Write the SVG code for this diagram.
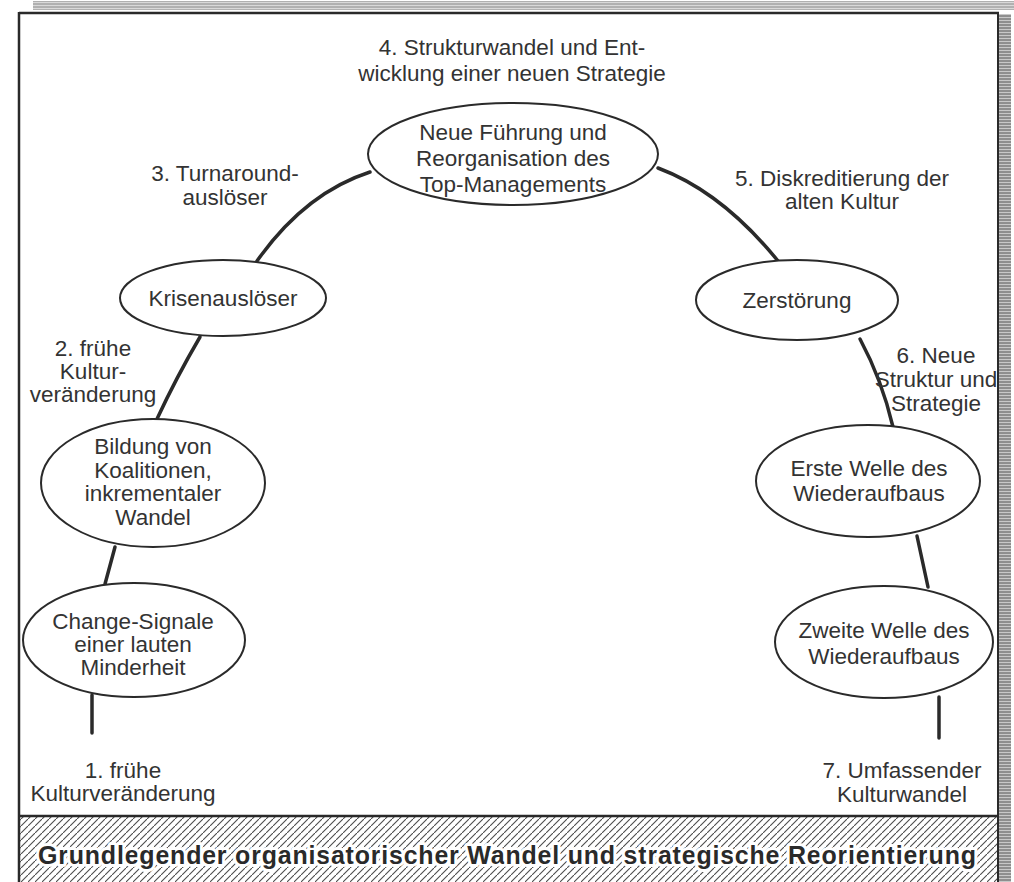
<svg xmlns="http://www.w3.org/2000/svg" width="1014" height="882" viewBox="0 0 1014 882">
  <defs>
    <pattern id="hatch" patternUnits="userSpaceOnUse" width="7" height="7">
      <line x1="-1" y1="8" x2="8" y2="-1" stroke="#4a4a4a" stroke-width="1.1"/>
    </pattern>
    <pattern id="hstripe" patternUnits="userSpaceOnUse" width="10" height="3">
      <rect x="0" y="0" width="10" height="3" fill="#c8c8c8"/>
      <line x1="0" y1="1" x2="10" y2="1" stroke="#555" stroke-width="1"/>
    </pattern>
    <style>
      .lbl { font-family: "Liberation Sans", Arial, Helvetica, sans-serif; font-size: 22.5px; fill: #333; text-anchor: middle; }
      .ell { fill: #fff; stroke: #2a2a2a; stroke-width: 2; }
      .con { fill: none; stroke: #2a2a2a; stroke-width: 3.5; stroke-linecap: round; }
      .ban { font-family: "Liberation Sans", Arial, Helvetica, sans-serif; font-size: 25px; font-weight: bold; fill: #2a2a2a; stroke: #fff; stroke-width: 6; paint-order: stroke; stroke-linejoin: round; }
    </style>
  </defs>

  <rect x="0" y="0" width="1014" height="882" fill="#fff"/>

  <!-- scan edges -->
  <rect x="33" y="1" width="981" height="9" fill="url(#hstripe)" opacity="0.7"/>
  <rect x="999" y="14" width="12" height="868" fill="url(#hstripe)"/>

  <!-- frame -->
  <g id="frame">
    <line x1="19" y1="13" x2="999" y2="13" stroke="#2a2a2a" stroke-width="2.5"/>
    <line x1="19" y1="12" x2="19" y2="882" stroke="#2a2a2a" stroke-width="2.5"/>
    <line x1="998" y1="12" x2="998" y2="882" stroke="#2a2a2a" stroke-width="2"/>
  </g>

  <!-- banner -->
  <g id="banner">
    <rect x="20" y="816" width="977" height="66" fill="url(#hatch)"/>
    <line x1="19" y1="816" x2="998" y2="816" stroke="#2a2a2a" stroke-width="2.5"/>
    <text class="ban" x="38" y="864" textLength="938" lengthAdjust="spacing">Grundlegender organisatorischer Wandel und strategische Reorientierung</text>
  </g>

  <!-- connectors -->
  <g id="connectors">
    <line class="con" x1="92" y1="695" x2="92" y2="733"/>
    <path class="con" d="M105 584 L115 547"/>
    <path class="con" d="M157 419 Q176 378 200 337"/>
    <path class="con" d="M257 261 Q305 193 370 172"/>
    <path class="con" d="M658 168 Q722 192 778 261"/>
    <path class="con" d="M860 339 Q882 380 893 427"/>
    <path class="con" d="M917 536 L928 587"/>
    <line class="con" x1="939" y1="697" x2="939" y2="738"/>
  </g>

  <!-- free labels -->
  <g id="labels">
    <text class="lbl" x="512" y="55">4. Strukturwandel und Ent-</text>
    <text class="lbl" x="512" y="81">wicklung einer neuen Strategie</text>
    <text class="lbl" x="225" y="181">3. Turnaround-</text>
    <text class="lbl" x="225" y="205">auslöser</text>
    <text class="lbl" x="842" y="186">5. Diskreditierung der</text>
    <text class="lbl" x="842" y="209">alten Kultur</text>
    <text class="lbl" x="93" y="356">2. frühe</text>
    <text class="lbl" x="93" y="379">Kultur-</text>
    <text class="lbl" x="93" y="402">veränderung</text>
    <text class="lbl" x="936" y="363">6. Neue</text>
    <text class="lbl" x="936" y="387">Struktur und</text>
    <text class="lbl" x="936" y="411">Strategie</text>
    <text class="lbl" x="123" y="778">1. frühe</text>
    <text class="lbl" x="123" y="801">Kulturveränderung</text>
    <text class="lbl" x="902" y="778">7. Umfassender</text>
    <text class="lbl" x="902" y="802">Kulturwandel</text>
  </g>

  <!-- nodes -->
  <g id="n-top">
    <ellipse class="ell" cx="513" cy="154" rx="145" ry="51"/>
    <text class="lbl" x="513" y="140">Neue Führung und</text>
    <text class="lbl" x="513" y="166">Reorganisation des</text>
    <text class="lbl" x="513" y="192">Top-Managements</text>
  </g>
  <g id="n-krise">
    <ellipse class="ell" cx="223" cy="298" rx="103" ry="38"/>
    <text class="lbl" x="223" y="306">Krisenauslöser</text>
  </g>
  <g id="n-zerst">
    <ellipse class="ell" cx="797" cy="300" rx="101" ry="40"/>
    <text class="lbl" x="797" y="308">Zerstörung</text>
  </g>
  <g id="n-bildung">
    <ellipse class="ell" cx="153" cy="483" rx="112" ry="64"/>
    <text class="lbl" x="153" y="454">Bildung von</text>
    <text class="lbl" x="153" y="478">Koalitionen,</text>
    <text class="lbl" x="153" y="501">inkrementaler</text>
    <text class="lbl" x="153" y="525">Wandel</text>
  </g>
  <g id="n-change">
    <ellipse class="ell" cx="134" cy="640" rx="111" ry="57"/>
    <text class="lbl" x="133" y="629">Change-Signale</text>
    <text class="lbl" x="133" y="652">einer lauten</text>
    <text class="lbl" x="133" y="675">Minderheit</text>
  </g>
  <g id="n-erste">
    <ellipse class="ell" cx="868" cy="481" rx="112" ry="56"/>
    <text class="lbl" x="869" y="476">Erste Welle des</text>
    <text class="lbl" x="869" y="501">Wiederaufbaus</text>
  </g>
  <g id="n-zweite">
    <ellipse class="ell" cx="884" cy="642" rx="109" ry="56"/>
    <text class="lbl" x="884" y="638">Zweite Welle des</text>
    <text class="lbl" x="884" y="664">Wiederaufbaus</text>
  </g>
</svg>
